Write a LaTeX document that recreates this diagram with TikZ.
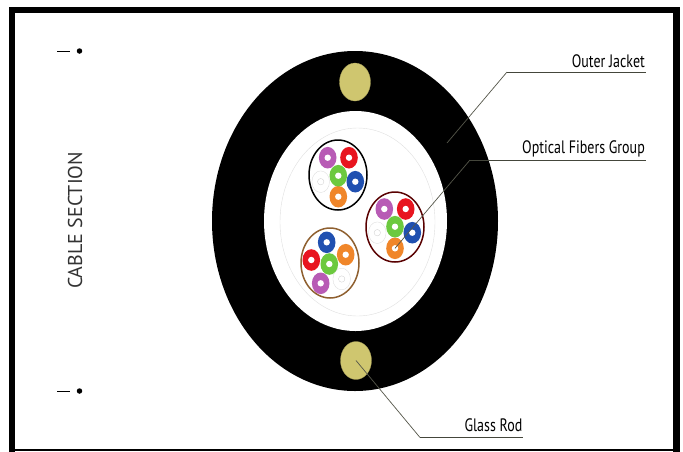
\documentclass[tikz,border=0pt]{standalone}
\usepackage{fontspec}
\setmainfont{PT Sans}
\usetikzlibrary{shapes.geometric}
\definecolor{rodc}{HTML}{CFC66F}
\definecolor{fmag}{HTML}{B85BB5}
\definecolor{fred}{HTML}{E8151F}
\definecolor{fgrn}{HTML}{6CC93F}
\definecolor{fblu}{HTML}{2050B0}
\definecolor{forg}{HTML}{F0862A}
\definecolor{leadc}{HTML}{55574A}
\tikzset{
  x=1pt,y=-1pt,
  el/.style args={#1/#2}{ellipse,minimum width=2*#1 pt,minimum height=2*#2 pt,inner sep=0pt,outer sep=0pt},
  rod/.style={el=15.5/19,fill=rodc,draw=rodc!80!black,line width=0.3pt},
  grp/.style={el=29/35,fill=white,line width=1.5pt},
  fiber/.style={el=8.8/10.8,fill=#1,path picture={\fill[white] (path picture bounding box.center) circle (3.2);}},
  blank/.style={el=8.8/10.8,draw=black!15,line width=0.3pt,fill=white,path picture={\draw[black!20,line width=0.3pt] (path picture bounding box.center) circle (3.2);}},
  leader/.style={draw=leadc,line width=0.7pt},
  rule/.style={draw=leadc!80!black,line width=1pt},
  lab/.style={font=\fontsize{18}{19}\selectfont,text=black,inner sep=0pt,xscale=0.777,anchor=base east},
  secmark/.style={circle,fill=black,minimum size=5.5pt,inner sep=0pt},
  secdash/.style={draw=black,line width=1pt}
}
\begin{document}
\begin{tikzpicture}
\useasboundingbox (0,0) rectangle (683,451);
\fill[white] (0,0) rectangle (683,451);
% frame
\draw[black,line width=6.5pt,line join=miter] (12.2,10.2) -- (676.5,10.2) -- (676.5,451.5) (12.2,7) -- (12.2,451.5);
\fill[black] (9,448.5) rectangle (680,451);
% cable
\node[el=143/170,fill=black] (jacket) at (355,221) {};
\node[el=91.5/110,fill=white] (core) at (355.5,221) {};
\node[el=77.5/94,draw=black!12,line width=0.4pt] (tape) at (357.5,222) {};
\node[rod] (rodtop) at (355,82) {};
\node[rod] (rodbot) at (356,360.5) {};
% groups
\node[grp,draw=black] (g1) at (338,175) {};
\node[grp,draw=red!35!black] (g2) at (395,227) {};
\node[grp,draw=brown!75!black] (g3) at (330,263) {};
% group 1
\node[blank] (a6) at (320.7,181.7) {};
\node[fiber=fmag] (a1) at (327.7,157.7) {};
\node[fiber=fred] (a2) at (349,157.7) {};
\node[fiber=fblu] (a4) at (355.3,181.7) {};
\node[fiber=forg] (a5) at (338.3,196.7) {};
\node[fiber=fgrn] (a3) at (338.3,175.7) {};
% group 2
\node[blank] (b6) at (377.3,232.7) {};
\node[fiber=fmag] (b1) at (384.3,209) {};
\node[fiber=fred] (b2) at (405.7,209) {};
\node[fiber=fblu] (b4) at (412.3,232.7) {};
\node[fiber=forg] (b5) at (395,248.3) {};
\node[fiber=fgrn] (b3) at (395,226.7) {};
% group 3
\node[blank] (c6) at (341.7,279) {};
\node[fiber=fblu] (c1) at (326.7,242.3) {};
\node[fiber=forg] (c2) at (345.7,254.7) {};
\node[fiber=fred] (c4) at (311.3,260) {};
\node[fiber=fmag] (c5) at (320.7,283.3) {};
\node[fiber=fgrn] (c3) at (329.3,264) {};
% leaders
\coordinate (jk) at (447,143);
\coordinate (jb) at (507,72);
\coordinate (je) at (646,72);
\coordinate (ob) at (470,160);
\coordinate (oe) at (646,160);
\coordinate (gb) at (420,437.5);
\coordinate (ge) at (523,437.5);
\draw[leader] (jk) -- (jb);
\draw[rule] (jb) -- (je);
\draw[leader] (b5.center) -- (ob);
\draw[rule] (ob) -- (oe);
\draw[leader] (rodbot.center) -- (gb);
\draw[rule] (gb) -- (ge);
% labels
\node[lab] (l1) at (645,67) {Outer Jacket};
\node[lab] (l2) at (645,153) {Optical Fibers Group};
\node[lab] (l3) at (522.5,431) {Glass Rod};
\node[rotate=90,font=\fontsize{20}{21}\selectfont,text=black!80,inner sep=0pt] (sec) at (75,220.5) {CABLE SECTION};
% section marks
\node[secmark] (m1) at (79.5,51) {};
\coordinate (d1a) at (57,51);
\coordinate (d1b) at (70,51);
\draw[secdash] (d1a) -- (d1b);
\node[secmark] (m2) at (79.5,391) {};
\coordinate (d2a) at (57,391);
\coordinate (d2b) at (70,391);
\draw[secdash] (d2a) -- (d2b);
\end{tikzpicture}
\end{document}
